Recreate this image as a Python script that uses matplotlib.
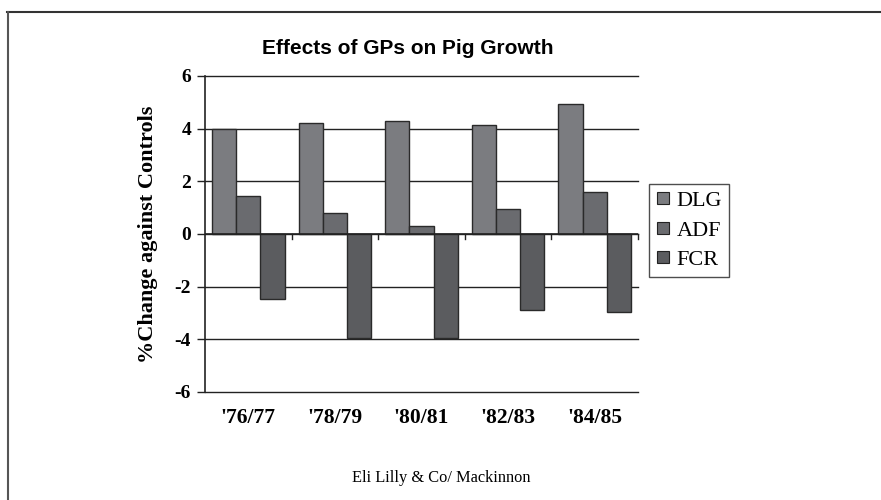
import numpy as np
import matplotlib.pyplot as plt
from matplotlib.lines import Line2D

seasons = ["'76/77", "'78/79", "'80/81", "'82/83", "'84/85"]
dlg = [4.0, 4.2, 4.3, 4.15, 4.95]
adf = [1.45, 0.8, 0.3, 0.95, 1.6]
fcr = [-2.45, -3.95, -3.95, -2.9, -2.95]

series = ['DLG', 'ADF', 'FCR']
colors = ['#7b7c80', '#6a6b6f', '#5b5c5f']

serif = 'Liberation Serif'
sans = 'Liberation Sans'

fig = plt.figure(figsize=(8.81, 5), dpi=100)
ax = fig.add_axes([205/881, 1 - 392/500, 433/881, 316/500])

x = np.arange(len(seasons))
w = 0.28
for i, (vals, c) in enumerate(zip([dlg, adf, fcr], colors)):
    ax.bar(x + (i - 1) * w, vals, w, color=c, edgecolor='#2a2a2a',
           linewidth=1.0, label=series[i], zorder=3)

ax.set_xlim(-0.5, len(seasons) - 0.5)
ax.set_ylim(-6, 6)
yt = list(range(-6, 7, 2))
ax.set_yticks(yt)
ax.set_yticklabels([str(v) for v in yt],
                   fontfamily=serif, fontweight='bold', fontsize=14)
for v in yt:
    ax.axhline(v, color='#222222', linewidth=1.0, zorder=0, clip_on=False)
ax.tick_params(axis='y', length=6, width=1.0, color='#222222', pad=4)

# category axis sits on the zero line with boundary ticks
ax.set_xticks([])
for s in ['top', 'right', 'bottom']:
    ax.spines[s].set_visible(False)
ax.spines['left'].set_color('#222222')
ax.spines['left'].set_linewidth(1.2)
ax.axhline(0, color='#222222', linewidth=1.2, zorder=4)
for b in np.arange(0.5, len(seasons), 1.0):
    ax.plot([b, b], [0, -0.2], color='#222222', linewidth=1.0,
            clip_on=False, zorder=4)
for xi, lab in zip(x, seasons):
    ax.text(xi, -7.0, lab, ha='center', va='center', fontfamily=serif,
            fontweight='bold', fontsize=15.5)

ax.set_ylabel('%Change against Controls', fontfamily=serif,
              fontweight='bold', fontsize=16, labelpad=12)

fig.text(408/881, 1 - 48/500, 'Effects of GPs on Pig Growth',
         ha='center', va='center', fontfamily=sans, fontweight='bold',
         fontsize=15)

handles = [Line2D([], [], marker='s', linestyle='none', markersize=9,
                  markerfacecolor=c, markeredgecolor='#222222',
                  markeredgewidth=0.8) for c in colors]
leg = fig.legend(handles, series, loc='upper left',
                 bbox_to_anchor=(649/881, 1 - 184/500),
                 prop={'family': serif, 'size': 16}, frameon=True,
                 fancybox=False, edgecolor='#222222', handlelength=0.7,
                 handletextpad=0.25, borderpad=0.3, labelspacing=0.4,
                 borderaxespad=0)
leg.get_frame().set_linewidth(1.0)

fig.text(441/881, 1 - 478/500, 'Eli Lilly & Co/ Mackinnon', ha='center',
         va='center', fontfamily=serif, fontsize=11.8)

# outer page frame
fig.add_artist(Line2D([7/881, 1], [1 - 11.5/500] * 2, color='#333333',
                      linewidth=1.5))
fig.add_artist(Line2D([7.5/881] * 2, [0, 1 - 11.5/500], color='#555555',
                      linewidth=1.5))

fig.savefig('out.png', dpi=100)
